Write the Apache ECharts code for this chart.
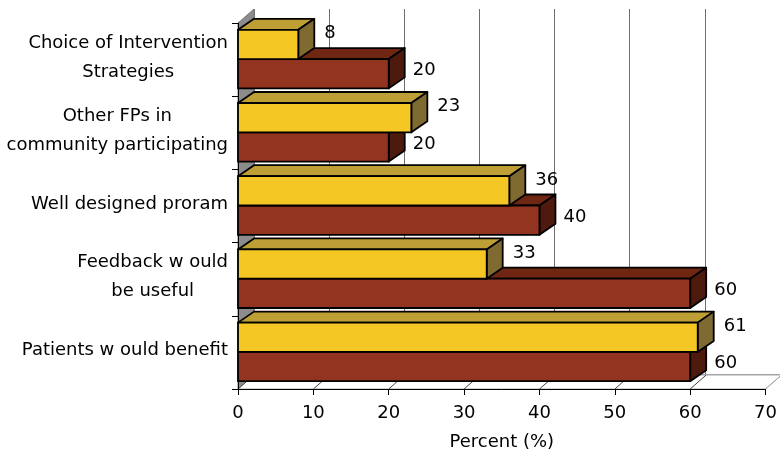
<!DOCTYPE html>
<html>
<head>
<meta charset="utf-8">
<script src="https://cdn.jsdelivr.net/npm/echarts@6/dist/echarts.min.js"></script>
<style>
    html, body { margin: 0; padding: 0; background: #fff; }
    #chart { width: 780px; height: 456px; }
</style>
</head>
<body>
<div id="chart"></div>
<script>
// 資料
const categories = [
    'Choice of Intervention\nStrategies',
    'Other FPs in\ncommunity participating',
    'Well designed proram',
    'Feedback w ould\nbe useful',
    'Patients w ould benefit'
];
const yellowValues = [8, 23, 36, 33, 61];
const redValues = [20, 20, 40, 60, 60];
const xTicks = [0, 10, 20, 30, 40, 50, 60, 70];

const FONT = '"DejaVu Sans", sans-serif';
const DEPTH_X = 16; // 3D 深度 (水平)
const WALL_DY = -14; // 牆面深度 (垂直)
const BAR_DY = -11; // 柱子深度 (垂直)

const YELLOW = { front: '#F4C724', top: '#BD9F35', side: '#7F6A32' };
const RED = { front: '#933420', top: '#6F2714', side: '#4F1A0E' };

// 左牆 + 地板
const renderWalls = (params, api) => {
    const cs = params.coordSys;
    const x0 = cs.x, y0 = cs.y, x1 = cs.x + cs.width, y1 = cs.y + cs.height;
    const children = [
        {
            type: 'polygon',
            shape: { points: [[x0, y0], [x0 + DEPTH_X, y0 + WALL_DY], [x0 + DEPTH_X, y1 + WALL_DY], [x0, y1]] },
            style: { fill: '#8c8c8c', stroke: '#7a7a7a', lineWidth: 1 }
        },
        {
            type: 'polygon',
            shape: { points: [[x0, y1], [x1, y1], [x1 + DEPTH_X, y1 + WALL_DY], [x0 + DEPTH_X, y1 + WALL_DY]] },
            style: { fill: '#fff', stroke: '#a6a6a6', lineWidth: 1 }
        }
    ];
    xTicks.forEach(t => {
        const x = api.coord([t, 0])[0];
        children.push({
            type: 'line',
            shape: { x1: x, y1: y1, x2: x + DEPTH_X, y2: y1 + WALL_DY },
            style: { stroke: t === 70 ? '#a6a6a6' : '#444', lineWidth: 1 }
        });
    });
    return { type: 'group', children };
};

// 一根 3D 柱子
const bar3D = (x0, x1, yTop, yBot, color, z2) => [
    {
        type: 'polygon',
        z2,
        shape: { points: [[x0, yTop], [x1, yTop], [x1 + DEPTH_X, yTop + BAR_DY], [x0 + DEPTH_X, yTop + BAR_DY]] },
        style: { fill: color.top, stroke: '#000', lineWidth: 1.8, lineJoin: 'round' }
    },
    {
        type: 'polygon',
        z2,
        shape: { points: [[x1, yTop], [x1, yBot], [x1 + DEPTH_X, yBot + BAR_DY], [x1 + DEPTH_X, yTop + BAR_DY]] },
        style: { fill: color.side, stroke: '#000', lineWidth: 1.8, lineJoin: 'round' }
    },
    {
        type: 'rect',
        z2,
        shape: { x: x0, y: yTop, width: x1 - x0, height: yBot - yTop },
        style: { fill: color.front, stroke: '#000', lineWidth: 1.8 }
    }
];

const valueLabel = (text, x, y) => ({
    type: 'text',
    z2: 1000,
    x,
    y,
    style: { text, fill: '#000', fontSize: 18, fontFamily: FONT, align: 'left', verticalAlign: 'middle' }
});

const renderBars = (params, api) => {
    const i = api.value(0);
    const yellow = api.value(1);
    const red = api.value(2);
    const band = api.size([0, 1])[1];
    const h = band * 0.4;
    const mid = api.coord([0, i])[1] - 0.5;
    const x0 = api.coord([0, i])[0];
    const xRed = api.coord([red, i])[0];
    const xYellow = api.coord([yellow, i])[0];
    // 越上面的柱子越晚畫
    const base = (categories.length - i) * 10;
    const children = [
        ...bar3D(x0, xRed, mid, mid + h, RED, base),
        ...bar3D(x0, xYellow, mid - h, mid, YELLOW, base + 5),
        valueLabel(String(red), xRed + DEPTH_X + 8, mid + h / 2 - 3),
        valueLabel(String(yellow), xYellow + DEPTH_X + 10, mid - h / 2 - 11)
    ];
    return { type: 'group', children };
};

const chart = echarts.init(document.getElementById('chart'));

chart.setOption({
    animation: false,
    grid: [
        { left: 238, top: 23, width: 529, height: 366 },
        { left: 254, top: 9, width: 529, height: 366 } // 後牆
    ],
    xAxis: [
        {
            type: 'value',
            gridIndex: 0,
            min: 0,
            max: 70,
            interval: 10,
            name: 'Percent (%)',
            nameLocation: 'middle',
            nameGap: 44,
            nameTextStyle: { fontSize: 18, fontFamily: FONT, color: '#000' },
            axisLine: { show: true, lineStyle: { color: '#000', width: 1 } },
            axisTick: { show: true, length: 6, lineStyle: { color: '#000' } },
            axisLabel: { fontSize: 18, fontFamily: FONT, color: '#000', margin: 15 },
            splitLine: { show: false }
        },
        {
            type: 'value',
            gridIndex: 1,
            min: 0,
            max: 70,
            interval: 10,
            position: 'top',
            z: -10,
            axisLine: { show: true, lineStyle: { color: '#a0a0a0', width: 2 } },
            axisTick: { show: false },
            axisLabel: { show: false },
            splitLine: { show: true, lineStyle: { color: '#6e6e6e', width: 1 } }
        }
    ],
    yAxis: [
        {
            type: 'category',
            gridIndex: 0,
            data: categories,
            inverse: true,
            axisLine: { show: true, lineStyle: { color: '#000', width: 1 } },
            axisTick: { show: true, length: 6, lineStyle: { color: '#000' } },
            axisLabel: {
                interval: 0,
                margin: 10,
                color: '#000',
                fontSize: 18,
                fontFamily: FONT,
                lineHeight: 29,
                padding: [0, 0, 4, 0],
                formatter: value => value.split('\n').map(l => `{c|${l}}`).join('\n'),
                rich: {
                    c: { align: 'center', fontSize: 18, fontFamily: FONT, lineHeight: 29, color: '#000' }
                }
            },
            splitLine: { show: false }
        },
        { type: 'value', gridIndex: 1, show: false }
    ],
    series: [
        {
            type: 'custom',
            name: 'walls',
            xAxisIndex: 0,
            yAxisIndex: 0,
            z: -5,
            silent: true,
            clip: false,
            renderItem: renderWalls,
            encode: { x: 0, y: 1 },
            data: [[0, 0]]
        },
        {
            type: 'custom',
            name: 'bars',
            xAxisIndex: 0,
            yAxisIndex: 0,
            clip: false,
            renderItem: renderBars,
            encode: { x: [1, 2], y: 0 },
            data: categories.map((c, i) => [i, yellowValues[i], redValues[i]])
        }
    ]
});
</script>
</body>
</html>
